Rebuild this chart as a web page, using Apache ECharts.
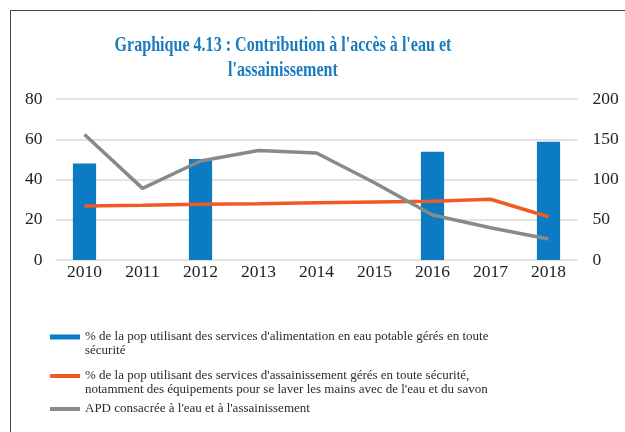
<!DOCTYPE html>
<html>
<head>
<meta charset="utf-8">
<script src="https://cdn.jsdelivr.net/npm/echarts@6/dist/echarts.min.js"></script>
<style>
  html, body { margin: 0; padding: 0; background: #fff; }
  #main { width: 625px; height: 432px; }
</style>
</head>
<body>
<div id="main"></div>
<script>
// années
const years = ['2010', '2011', '2012', '2013', '2014', '2015', '2016', '2017', '2018'];
// % eau potable (barres, axe gauche)
const eauPotable = [48, null, 50.2, null, null, null, 53.8, null, 58.8];
// % assainissement (ligne orange, axe gauche)
const assainissement = [26.8, 27.2, 27.7, 28.0, 28.4, 28.8, 29.2, 30.2, 21.5];
// APD (ligne grise, axe droit)
const apd = [156, 89, 123, 136, 133, 96, 56, 40, 26];

const names = [
  "% de la pop utilisant des services d'alimentation en eau potable gérés en toute\nsécurité",
  "% de la pop utilisant des services d'assainissement gérés en toute sécurité,\nnotamment des équipements pour se laver les mains avec de l'eau et du savon",
  "APD consacrée à l'eau et à l'assainissement"
];

const chart = echarts.init(document.getElementById('main'), null, { renderer: 'canvas' });

const font = 'Liberation Serif';

// une légende par série, icône alignée sur la première ligne
function legendFor(name, top, iconH, twoLines) {
  return {
    left: 50,
    top: top,
    padding: 0,
    data: [{ name: name, icon: 'rect' }],
    itemWidth: 30,
    itemHeight: iconH,
    selectedMode: false,
    formatter: n => (twoLines ? '\n' : '') + n,
    textStyle: { fontFamily: font, fontSize: 13, color: '#2a2a2a', lineHeight: 14 }
  };
}

const option = {
  backgroundColor: '#fff',
  animation: false,
  graphic: [{
    type: 'rect',
    shape: { x: 10.5, y: 10.5, width: 700, height: 500 },
    style: { fill: 'none', stroke: '#444', lineWidth: 1 },
    silent: true
  }, {
    type: 'text',
    x: 283,
    y: 33,
    scaleX: 0.73,
    style: {
      text: "Graphique 4.13 : Contribution à l'accès à l'eau et\nl'assainissement",
      fontFamily: font,
      fontSize: 22,
      fontWeight: 'bold',
      fill: '#1b7bbf',
      align: 'center',
      lineHeight: 25
    },
    silent: true
  }],
  legend: [
    legendFor(names[0], 316, 5, true),
    legendFor(names[1], 355, 4, true),
    legendFor(names[2], 402, 4, false)
  ],
  grid: { left: 55.5, right: 47.5, top: 99, bottom: 172 },
  xAxis: {
    type: 'category',
    data: years,
    axisLine: { show: false },
    axisTick: { show: false },
    axisLabel: { fontFamily: font, fontSize: 17.5, color: '#222', margin: 3 }
  },
  yAxis: [{
    type: 'value',
    min: 0, max: 80, interval: 20,
    axisLine: { show: false },
    axisTick: { show: false },
    axisLabel: { fontFamily: font, fontSize: 17.5, color: '#222', margin: 13 },
    splitLine: { lineStyle: { color: '#d9d9d9', width: 1.5 } }
  }, {
    type: 'value',
    min: 0, max: 200, interval: 50,
    axisLine: { show: false },
    axisTick: { show: false },
    axisLabel: { fontFamily: font, fontSize: 17.5, color: '#222', margin: 15 },
    splitLine: { show: false }
  }],
  series: [{
    name: names[0],
    type: 'bar',
    data: eauPotable,
    barWidth: '40%',
    itemStyle: { color: '#0b7bc3' }
  }, {
    name: names[1],
    type: 'line',
    data: assainissement,
    yAxisIndex: 0,
    symbol: 'none',
    lineStyle: { color: '#f05a24', width: 3.5 },
    itemStyle: { color: '#f05a24' }
  }, {
    name: names[2],
    type: 'line',
    data: apd,
    yAxisIndex: 1,
    symbol: 'none',
    lineStyle: { color: '#858a8c', width: 3.5 },
    itemStyle: { color: '#858a8c' }
  }]
};

chart.setOption(option);
</script>
</body>
</html>
